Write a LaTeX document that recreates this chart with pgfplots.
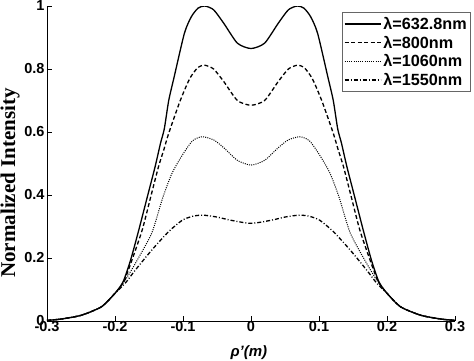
\documentclass[border=0pt]{standalone}
\usepackage{fontspec}
\setmainfont{Liberation Sans}
\newfontfamily\timesfont{Liberation Serif}
\usepackage{pgfplots}
\pgfplotsset{compat=1.18}
\usepackage{pgfplotstable}

\pgfplotstableread{
x y
-0.30 0.002
-0.28 0.006
-0.25 0.018
-0.22 0.045
-0.20 0.088
-0.188 0.125
-0.177 0.194
-0.165 0.289
-0.152 0.398
-0.141 0.49
-0.133 0.565
-0.1275 0.61
-0.121 0.70
-0.113 0.775
-0.098 0.913
-0.088 0.965
-0.078 0.993
-0.068 1.0
-0.055 0.988
-0.04 0.945
-0.02 0.882
0.0 0.865
0.02 0.882
0.04 0.945
0.055 0.988
0.068 1.0
0.078 0.993
0.088 0.965
0.098 0.913
0.113 0.775
0.121 0.70
0.1275 0.61
0.133 0.565
0.141 0.49
0.152 0.398
0.165 0.289
0.177 0.194
0.188 0.125
0.20 0.088
0.22 0.045
0.25 0.018
0.28 0.006
0.30 0.002
}\solid

\pgfplotstableread{
x y
-0.30 0.002
-0.28 0.006
-0.25 0.018
-0.22 0.045
-0.20 0.088
-0.187 0.125
-0.175 0.194
-0.16 0.289
-0.147 0.398
-0.136 0.49
-0.128 0.545
-0.121 0.596
-0.104 0.70
-0.09 0.77
-0.078 0.805
-0.068 0.812
-0.055 0.80
-0.04 0.76
-0.02 0.70
0.0 0.685
0.02 0.70
0.04 0.76
0.055 0.80
0.068 0.812
0.078 0.805
0.09 0.77
0.104 0.70
0.121 0.596
0.128 0.545
0.136 0.49
0.147 0.398
0.16 0.289
0.175 0.194
0.187 0.125
0.20 0.088
0.22 0.045
0.25 0.018
0.28 0.006
0.30 0.002
}\dashed

\pgfplotstableread{
x y
-0.30 0.002
-0.28 0.006
-0.25 0.018
-0.22 0.045
-0.20 0.088
-0.185 0.13
-0.17 0.183
-0.146 0.279
-0.13 0.39
-0.116 0.47
-0.10 0.53
-0.086 0.572
-0.072 0.585
-0.055 0.575
-0.04 0.55
-0.02 0.51
0.0 0.495
0.02 0.51
0.04 0.55
0.055 0.575
0.072 0.585
0.086 0.572
0.10 0.53
0.116 0.47
0.13 0.39
0.146 0.279
0.17 0.183
0.185 0.13
0.20 0.088
0.22 0.045
0.25 0.018
0.28 0.006
0.30 0.002
}\dotted

\pgfplotstableread{
x y
-0.30 0.002
-0.28 0.006
-0.25 0.018
-0.22 0.045
-0.20 0.088
-0.185 0.12
-0.17 0.162
-0.146 0.225
-0.121 0.284
-0.101 0.32
-0.085 0.333
-0.07 0.336
-0.05 0.33
-0.03 0.32
0.0 0.31
0.03 0.32
0.05 0.33
0.07 0.336
0.085 0.333
0.101 0.32
0.121 0.284
0.146 0.225
0.17 0.162
0.185 0.12
0.20 0.088
0.22 0.045
0.25 0.018
0.28 0.006
0.30 0.002
}\dashdot

\begin{document}
\begin{tikzpicture}
\useasboundingbox (-47pt,-39pt) rectangle (427pt,321pt);
\begin{axis}[
  at={(0,0)}, anchor=south west,
  width=408pt, height=315pt, scale only axis,
  xmin=-0.3, xmax=0.3, ymin=0, ymax=1,
  axis lines*=left,
  axis line style={line width=0.8pt},
  tick align=inside,
  major tick length=5pt,
  tick style={line width=0.8pt, black},
  xtick={-0.3,-0.2,-0.1,0,0.1,0.2,0.3},
  xticklabels={-0.3,-0.2,-0.1,0,0.1,0.2,0.3},
  ytick={0,0.2,0.4,0.6,0.8,1},
  yticklabels={0,0.2,0.4,0.6,0.8,1},
  ticklabel style={font=\fontsize{14.5}{17}\selectfont\bfseries},
  xticklabel style={yshift=3pt},
  yticklabel style={xshift=1pt},
  xlabel={\bfseries\itshape ρ'(m)},
  xlabel style={font=\fontsize{15}{17}\selectfont, at={(axis description cs:0.495,0)}, anchor=base, yshift=-35pt},
  ylabel={\timesfont\bfseries Normalized Intensity},
  ylabel style={font=\fontsize{21}{23}\selectfont, at={(axis description cs:-0.0907,0.438)}, anchor=center},
  legend style={at={(axis description cs:0.722,0.98)}, anchor=north west,
    draw=black!60, line width=1pt, font=\fontsize{16.2}{18}\selectfont\bfseries,
    inner xsep=2pt, inner ysep=2.5pt, row sep=1pt, cells={anchor=west}},
  legend image code/.code={\draw[#1] (0pt,0pt) -- (36pt,0pt);},
  every axis plot/.append style={line width=1.3pt, black, smooth, tension=0.4},
]
\addplot[solid] table {\solid};
\addlegendentry{λ=632.8nm}
\addplot[dashed, dash pattern=on 4pt off 2.5pt] table {\dashed};
\addlegendentry{λ=800nm}
\addplot[dotted, line width=1pt, dash pattern=on 1pt off 1.2pt] table {\dotted};
\addlegendentry{λ=1060nm}
\addplot[dash pattern=on 4pt off 2pt on 1pt off 2pt] table {\dashdot};
\addlegendentry{λ=1550nm}
\end{axis}
\end{tikzpicture}
\end{document}
